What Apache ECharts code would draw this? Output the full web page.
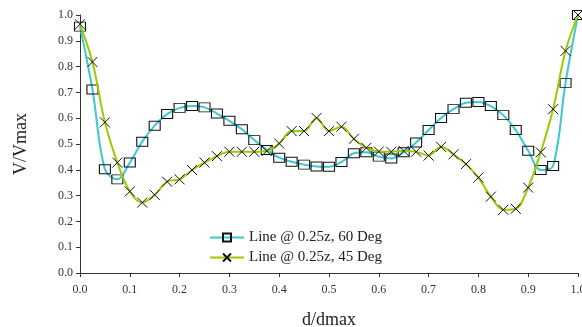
<!DOCTYPE html>
<html>
<head>
<meta charset="utf-8">
<script src="https://cdn.jsdelivr.net/npm/echarts@6/dist/echarts.min.js"></script>
<style>
  html, body { margin: 0; padding: 0; background: #fff; }
  #chart { width: 582px; height: 327px; }
</style>
</head>
<body>
<div id="chart"></div>
<script>
  // d/dmax positions, every 0.025
  var dPos = [0, 0.025, 0.05, 0.075, 0.1, 0.125, 0.15, 0.175, 0.2, 0.225,
    0.25, 0.275, 0.3, 0.325, 0.35, 0.375, 0.4, 0.425, 0.45, 0.475,
    0.5, 0.525, 0.55, 0.575, 0.6, 0.625, 0.65, 0.675, 0.7, 0.725,
    0.75, 0.775, 0.8, 0.825, 0.85, 0.875, 0.9, 0.925, 0.95, 0.975, 1.0];

  // Line @ 0.25z, 60 Deg
  var v60 = [0.955, 0.711, 0.402, 0.363, 0.428, 0.509, 0.571, 0.616, 0.640, 0.647,
    0.642, 0.618, 0.590, 0.557, 0.515, 0.477, 0.447, 0.431, 0.420, 0.413,
    0.412, 0.430, 0.464, 0.468, 0.451, 0.444, 0.468, 0.506, 0.554, 0.601,
    0.635, 0.660, 0.663, 0.647, 0.612, 0.554, 0.474, 0.399, 0.415, 0.737, 1.0];

  // Line @ 0.25z, 45 Deg
  var v45 = [0.964, 0.818, 0.584, 0.428, 0.316, 0.273, 0.303, 0.354, 0.363, 0.399,
    0.428, 0.453, 0.470, 0.470, 0.470, 0.473, 0.502, 0.550, 0.550, 0.601,
    0.550, 0.567, 0.520, 0.485, 0.471, 0.470, 0.473, 0.470, 0.455, 0.489,
    0.460, 0.422, 0.370, 0.296, 0.245, 0.249, 0.331, 0.468, 0.635, 0.861, 1.0];

  var names = ['Line @ 0.25z, 60 Deg', 'Line @ 0.25z, 45 Deg'];

  function pairs(xs, ys) {
    var out = [];
    for (var i = 0; i < xs.length; i++) {
      out.push([xs[i], ys[i]]);
    }
    return out;
  }

  var serif = '"Liberation Serif", "DejaVu Serif", serif';
  var crossPath = 'path://M0,0L10,10M10,0L0,10';

  var axisCommon = {
    type: 'value',
    min: 0,
    max: 1,
    interval: 0.1,
    splitLine: { show: false },
    axisLine: { show: true, lineStyle: { color: '#333', width: 1 } },
    axisTick: { show: true, length: 4, lineStyle: { color: '#333' } },
    axisLabel: {
      color: '#333',
      fontFamily: serif,
      fontSize: 12,
      formatter: function (v) { return v.toFixed(1); }
    },
    nameTextStyle: { color: '#222', fontFamily: serif, fontSize: 18 }
  };

  var option = {
    animation: false,
    backgroundColor: '#fff',
    grid: { left: 80, right: 4, top: 15, bottom: 54, containLabel: false, outerBoundsMode: 'none' },
    legend: {
      orient: 'vertical',
      left: 204,
      top: 225,
      itemWidth: 34,
      itemHeight: 10,
      itemGap: 5,
      textStyle: { color: '#222', fontFamily: serif, fontSize: 15, lineHeight: 15 },
      data: names
    },
    xAxis: Object.assign({}, axisCommon, {
      name: 'd/dmax',
      nameLocation: 'middle',
      nameGap: 38,
      axisLabel: Object.assign({}, axisCommon.axisLabel, { margin: 11 })
    }),
    yAxis: Object.assign({}, axisCommon, {
      name: 'V/Vmax',
      nameLocation: 'middle',
      nameGap: 50,
      axisLabel: Object.assign({}, axisCommon.axisLabel, { margin: 7 })
    }),
    series: [
      {
        name: names[0],
        type: 'line',
        smooth: 0.35,
        data: pairs(dPos, v60),
        symbol: 'rect',
        symbolSize: [11, 9],
        showAllSymbol: true,
        lineStyle: { color: '#3cc8d0', width: 2 },
        itemStyle: { color: 'rgba(255,255,255,0)', borderColor: '#111', borderWidth: 1 },
        z: 2
      },
      {
        name: names[1],
        type: 'line',
        smooth: 0.35,
        data: pairs(dPos, v45),
        symbol: crossPath,
        symbolSize: 10,
        showAllSymbol: true,
        lineStyle: { color: '#99cc00', width: 2 },
        itemStyle: { color: 'rgba(255,255,255,0)', borderColor: '#111', borderWidth: 1 },
        z: 3
      }
    ]
  };

  var chart = echarts.init(document.getElementById('chart'));
  chart.setOption(option);
</script>
</body>
</html>
